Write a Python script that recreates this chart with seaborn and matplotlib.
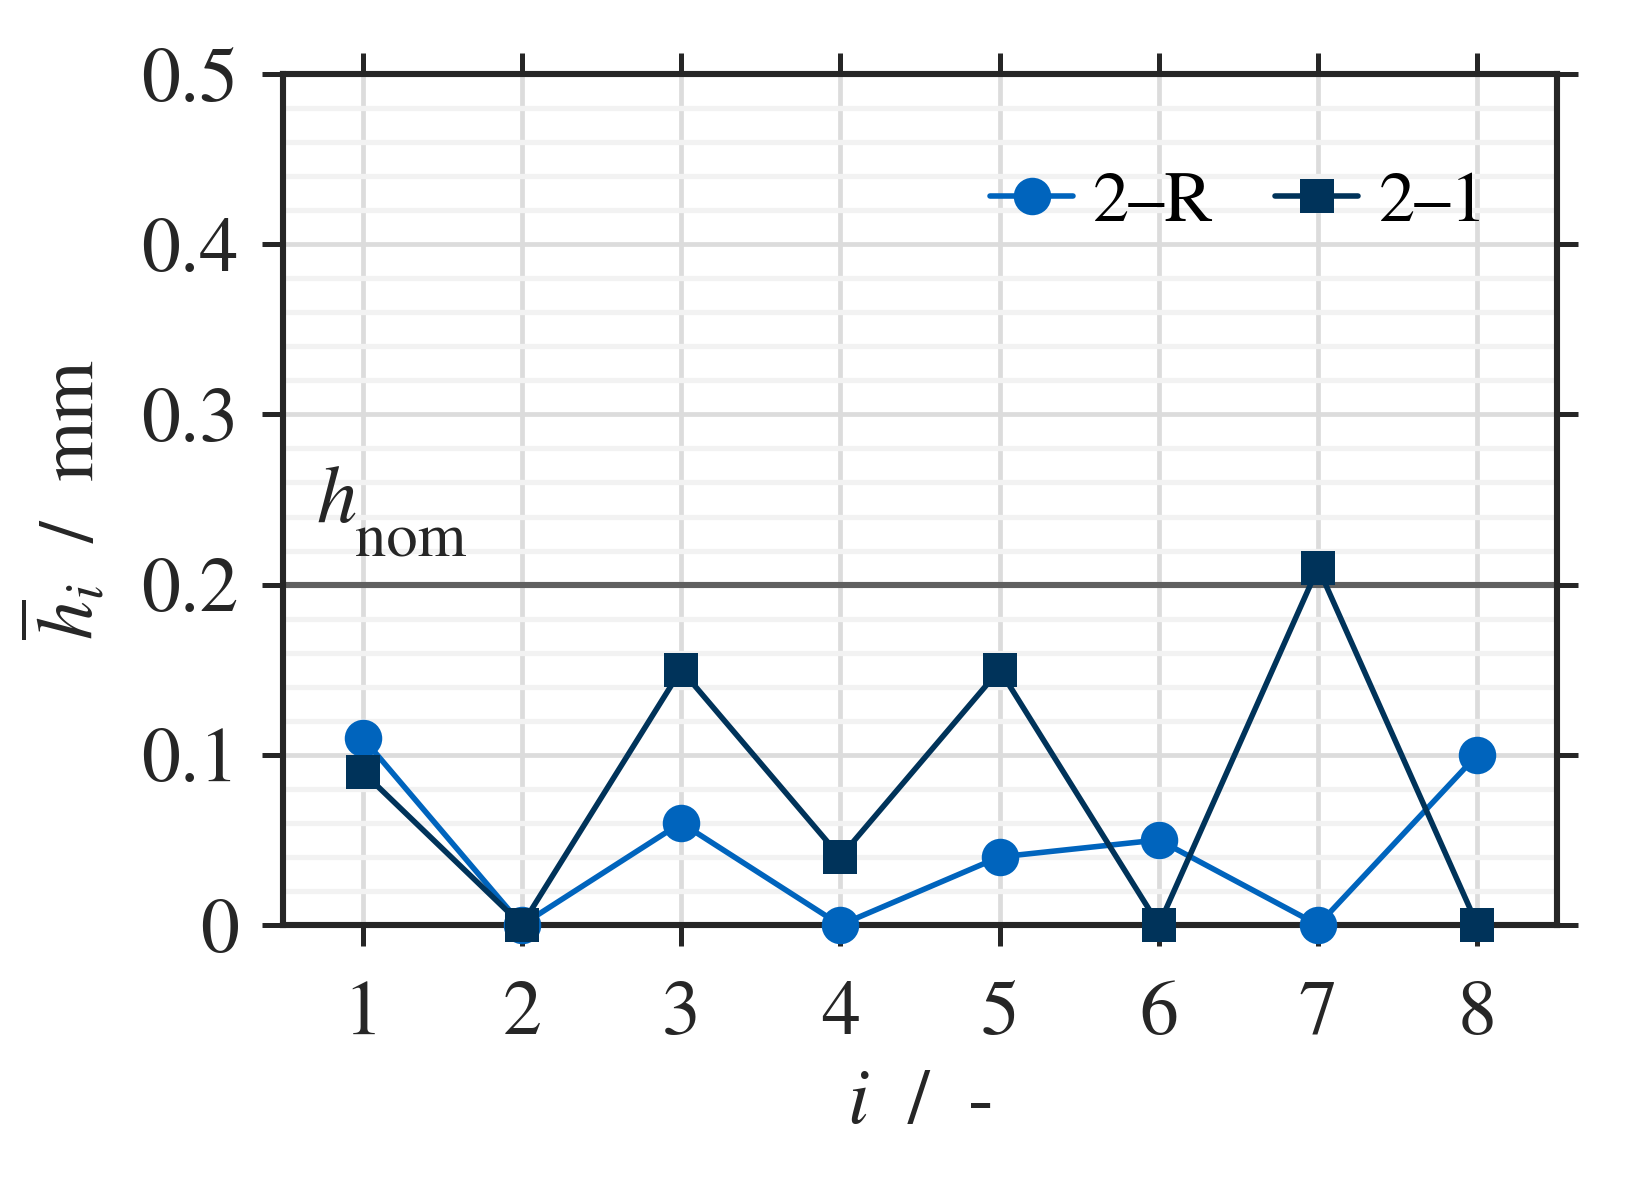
import matplotlib
matplotlib.use("Agg")
import matplotlib.pyplot as plt
import seaborn as sns
import numpy as np
from matplotlib.ticker import MultipleLocator

# data
idx = [1, 2, 3, 4, 5, 6, 7, 8]
h_2R = [0.11, 0.0, 0.06, 0.0, 0.04, 0.05, 0.0, 0.10]
h_21 = [0.09, 0.0, 0.15, 0.04, 0.15, 0.0, 0.21, 0.0]
series_names = ["2\u2013R", "2\u20131"]
h_nom = 0.2
yticks = [0, 0.1, 0.2, 0.3, 0.4, 0.5]
yticklabels = ["0", "0.1", "0.2", "0.3", "0.4", "0.5"]

blue = "#0064bd"
navy = "#00335a"
ink = "#262626"

sns.set_theme(style="white")
# STIX ships with matplotlib, Times-like
plt.rcParams["font.family"] = ["STIXGeneral", "DejaVu Serif"]
plt.rcParams["mathtext.fontset"] = "stix"
plt.rcParams["font.size"] = 27

fig = plt.figure(figsize=(8.15, 5.9), dpi=200)
ax = fig.add_axes([0.1736, 0.2161, 0.7816, 0.7212])

ax.set_axisbelow(True)
ax.axhline(h_nom, color="#606060", lw=2.2, zorder=1.5)

sns.lineplot(x=idx, y=h_2R, ax=ax, color=blue, marker="o", markersize=13.5,
             markeredgecolor=blue, markeredgewidth=0, lw=2.0,
             label=series_names[0], zorder=3, clip_on=False)
sns.lineplot(x=idx, y=h_21, ax=ax, color=navy, marker="s", markersize=12.5,
             markeredgecolor=navy, markeredgewidth=0, lw=2.0,
             label=series_names[1], zorder=3, clip_on=False)

ax.set_xlim(0.5, 8.5)
ax.set_ylim(0, 0.5)
ax.set_xticks(idx)
ax.set_yticks(yticks)
ax.set_yticklabels(yticklabels)
ax.yaxis.set_minor_locator(MultipleLocator(0.02))

ax.grid(True, which="major", color="#dcdcdc", lw=1.7)
ax.grid(True, which="minor", axis="y", color="#f2f2f2", lw=1.9)
ax.tick_params(which="major", direction="out", length=7.5, width=1.8,
               colors=ink, labelsize=28,
               top=True, right=True, bottom=True, left=True)
ax.tick_params(axis="x", pad=12.5)
ax.tick_params(axis="y", pad=8.5)
ax.tick_params(which="minor", length=0)
for sp in ax.spines.values():
    sp.set_linewidth(2.2)
    sp.set_color(ink)

ax.set_xlabel("$i$  /  -", fontsize=28, color=ink)
ax.set_ylabel(r"$\overline{h}_{i}$  /  mm", fontsize=28, color=ink)
ax.xaxis.set_label_coords(0.5, -0.17)
ax.yaxis.set_label_coords(-0.135, 0.5)

# h_nom annotation
ax.text(0.71, 0.2368, "h", style="italic", fontsize=29, color=ink, va="baseline")
ax.text(0.953, 0.2164, "nom", fontsize=22.5, color=ink, va="baseline")

leg = ax.legend(loc="center left", bbox_to_anchor=(0.555, 0.847), ncol=2,
                frameon=False, fontsize=26, handlelength=1.15,
                handletextpad=0.28, columnspacing=0.85, borderpad=0,
                borderaxespad=0)
for t in leg.get_texts():
    t.set_color("black")

fig.savefig("out.png", dpi=200)
